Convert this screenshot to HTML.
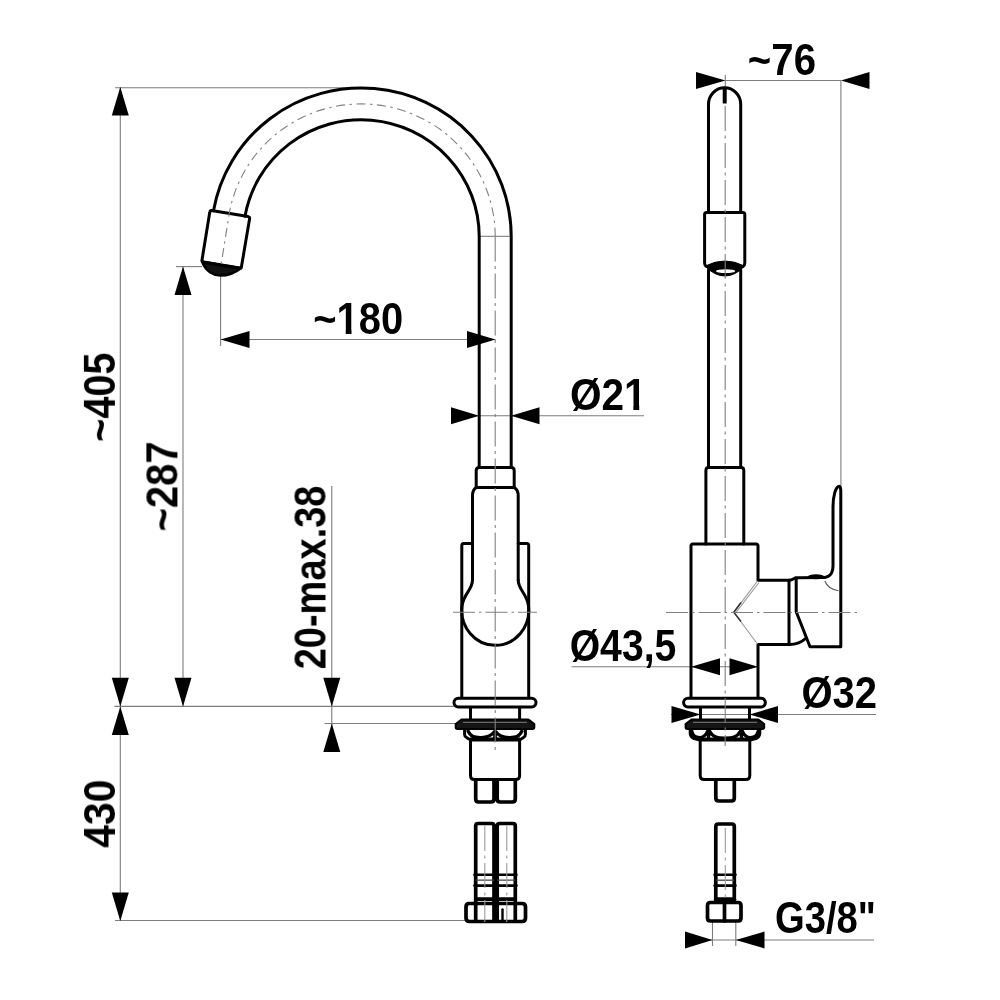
<!DOCTYPE html>
<html><head><meta charset="utf-8">
<style>
html,body{margin:0;padding:0;background:#fff;}
body{width:1000px;height:1000px;overflow:hidden;}
svg{display:block;}
text{font-family:"Liberation Sans",sans-serif;font-weight:bold;font-size:43.5px;fill:#000;}
.k{fill:none;stroke:#000;stroke-width:3;stroke-linejoin:round;stroke-linecap:round;}
.kf{fill:#fff;stroke:#000;stroke-width:3;stroke-linejoin:round;stroke-linecap:round;}
.h{stroke-width:3.7 !important;}
.m{fill:none;stroke:#000;stroke-width:2;stroke-linejoin:round;stroke-linecap:round;}
.t{fill:none;stroke:#7d7d7d;stroke-width:1.1;}
.c{fill:none;stroke:#808080;stroke-width:1.1;stroke-dasharray:25 4.5 3 4.5;}
.c2{stroke-dasharray:9 4.5 2.500 4.5;}
.a{fill:#000;stroke:none;}
</style></head>
<body>
<svg width="1000" height="1000" viewBox="0 0 1000 1000">
<rect width="1000" height="1000" fill="#fff"/>

<!-- ================= DIMENSION / THIN LINES ================= -->
<g class="t">
  <!-- top ext line -->
  <path d="M115 87.7H362"/>
  <!-- 405/430 vertical -->
  <path d="M120.3 87V921"/>
  <!-- 287 -->
  <path d="M176 266.6H202"/>
  <path d="M183 267V706"/>
  <!-- 180 -->
  <path d="M220.6 275V346"/>
  <path d="M220.6 339.5H495.5"/>
  <!-- base lines -->
  <path d="M114.5 706.4H456"/>
  <path d="M324.5 723.5H458"/>
  <path d="M331.8 486V752"/>
  <path d="M115 920.5H467"/>
  <!-- Ø21 -->
  <path d="M451 415.7H644"/>
  <!-- tangent -->
  <path d="M479 236.3H511"/>
  <!-- ~76 -->
  <path d="M725.5 80.5H841"/>
  <path d="M840.9 80V487"/>
  <path d="M725.3 75V88"/>
  <!-- Ø43,5 -->
  <path d="M571.5 666.7H757"/>
  <!-- Ø32 -->
  <path d="M671 714.5H876"/>
  <!-- G3/8 -->
  <path d="M685 940H874"/>
  <path d="M712.5 921V946M735.8 921V946"/>
</g>

<!-- ================= FRONT VIEW ================= -->
<g id="front">
  <!-- spout arcs -->
  <path class="k" d="M511.2 467.5V236.5A150 148.5 0 0 0 213.48 210.71"/>
  <path class="k" d="M479.2 467.5V236.5A118 116.7 0 0 0 244.99 216.24"/>
  <!-- aerator -->
  <path d="M202 261.6C206 272 214 275.5 220.4 275.6C228 275.6 235 273 241.2 268Z" fill="#111" stroke="#000" stroke-width="2.5" stroke-linejoin="round"/>
  <path class="k" d="M211.5 210.6L248.2 216.6Q250 217 249.6 218.8L241.4 267Q241 268.4 239.6 268.2L203.6 262.2Q201.7 261.8 202 260L209.8 212Q210 210.4 211.5 210.6Z"/>
  <!-- collar -->
  <path class="k" d="M476.2 487.4V470.500Q476.2 467.5 479.2 467.5H511.2Q514.2 467.5 514.2 470.500V487.4"/>
  <path class="k" d="M476.2 487.4H514.2"/>
  <!-- body upper -->
  <path class="k" d="M472.5 580V496Q472.5 489.500 476.2 487.6M518.2 580V496Q518.2 489.500 514.2 487.6"/>
  <!-- keyhole circle -->
  <path class="k" d="M472.5 580C472.5 590 463.800 593 462 606A33.5 35 0 1 0 528.5 606C526.8 593 518.2 590 518.2 580"/>
  <!-- handle outer -->
  <path class="k" d="M472.5 543.5H463.800Q461.8 543.5 461.8 545.5V698M518.2 543.5H526.7Q528.7 543.5 528.7 545.5V698"/>
  <!-- flange -->
  <rect class="kf" x="454" y="698.300" width="82" height="8.6" rx="4.3"/>
  <!-- neck -->
  <path class="k" d="M470.5 707.5V720M519.6 707.5V720"/>
  <!-- nut -->
  <path class="k" d="M464.6 729V734.500Q464.6 736.5 466.5 737.5L470.5 740H519.6L523.5 737.5Q525.4 736.5 525.4 734.500V729"/>
  <path d="M467.5 730C471 737.800 475 737.500 481 737.500C487 737.500 491 736.5 494.6 731.5L495.1 739.5L495.6 731.5C499 736.5 503 737.500 509 737.500C515 737.500 519 737.800 522.5 730" fill="none" stroke="#000" stroke-width="3.2" stroke-linejoin="round"/>
  <path d="M491.5 739.5L495.1 733.500L498.7 739.5Z" fill="#111"/>
  <path d="M470 738.8H520" stroke="#000" stroke-width="2.4" fill="none"/>
  <!-- washer -->
  <path d="M461.5 719.5H528.5L534.3 724V727.300Q534.3 729 532.5 729H457.5Q455.7 729 455.7 727.300V724Z" fill="#151515" stroke="#000" stroke-width="2" stroke-linejoin="round"/>
  <path d="M463 722.3H527" stroke="#7a7a7a" stroke-width="1" fill="none"/>
  <!-- lower body -->
  <path class="k" d="M470.5 740V775.500Q470.5 779.5 474.5 779.5H515.6Q519.6 779.5 519.6 775.500V740"/>
  <!-- stubs -->
  <path class="k h" d="M475.7 780V799Q475.7 802 478.7 802H491Q494 802 494 799V780M497.2 780V799Q497.2 802 500.2 802H512.3Q515.3 802 515.3 799V780"/>
  <!-- hoses -->
  <path class="k h" d="M475.7 902V826Q475.7 823.5 478.1 823.5H491.5Q494 823.5 494 826V902M497.2 902V826Q497.2 823.5 499.6 823.5H512.9Q515.3 823.5 515.3 826V902"/>
  <path class="k" style="stroke-width:2.6" d="M474.4 874.8H494.500M474.4 885.6H494.500M496.7 874.8H516.500M496.7 885.6H516.500"/>
  <path d="M475.7 880.2H494M497.2 880.2H515.3" fill="none" stroke="#444" stroke-width="1.3"/>
  <path class="k h" d="M475.7 899.2H494M497.2 899.2H515.3"/>
  <!-- hose nuts -->
  <path class="kf h" d="M469 903.5H522Q525.5 903.5 525.5 907V918Q525.5 921.5 522 921.5H469.5Q466 921.5 466 918V907Q466 903.5 469 903.5Z"/>
  <path class="k h" d="M475.7 905V920M494 904V921M497.2 904V921M515.3 905V920"/>
  <path class="k" style="stroke-width:2.4" d="M502.5 909.500V920"/>
</g>

<!-- ================= SIDE VIEW ================= -->
<g id="side">
  <!-- spout -->
  <path class="k" d="M708.5 212V104.200A16.1 16.4 0 0 1 740.7 104.200V212"/>
  <path d="M724.7 88V103.5" fill="none" stroke="#000" stroke-width="4"/>
  <path class="k" d="M708.5 270V467.5M740.7 270V467.5"/>
  <!-- aerator -->
  <path class="k" d="M706.5 212.5H742.8Q744.8 212.5 744.8 214.5V263Q744.8 265.5 743 266.5M706.5 212.5Q704.6 212.5 704.6 214.5V263Q704.6 265.5 706.4 266.5"/>
  <path d="M705 266.200Q725 255.800 744.6 266.200Q725 285.800 705 266.200Z" fill="#000" stroke="#000" stroke-width="1" stroke-linejoin="round"/>
  <ellipse cx="725.6" cy="271.2" rx="9.6" ry="1.9" fill="#fff"/>
  <!-- lower tube -->
  <path class="k" d="M705.9 544V470.5Q705.9 467.6 708.8 467.6H740.8Q743.8 467.6 743.8 470.5V544"/>
  <!-- body -->
  <path class="k" d="M691 698V546Q691 544 693 544H756Q758 544 758 546V580.300H789M789 644.6H758V698"/>
  <!-- inner hex -->
  <path d="M757.5 581L733.8 612.3L757.5 644M759 582.500L736 612.3" fill="none" stroke="#999" stroke-width="1.1"/>
  <path d="M741 602.500L733.8 612.3L741 621.5" fill="none" stroke="#333" stroke-width="1.5"/>
  <!-- cartridge -->
  <path class="k" d="M789 580.300V644.6"/>
  <path class="k" d="M789 644.6C796 644.300 801.500 642.500 805.500 638.5"/>
  <!-- lever -->
  <path class="k" d="M789 580.300C793 580 794 578 796.2 577.8C805 577.700 814 577.600 822 577.600C829.500 577.600 833 574 833 565.500V507C833 496 835.500 487.800 838.600 486.400C840.8 486 840.8 489 840.8 493V646.800H810L796.2 611.800V578"/>
  <ellipse cx="816" cy="576.700" rx="8.200" ry="2.500" fill="#000"/>
  <path d="M824.8 581Q828 589 838.5 590.800" fill="none" stroke="#555" stroke-width="1.1"/>
  <!-- flange -->
  <rect class="kf" x="683.6" y="698.300" width="81.8" height="8.6" rx="4.3"/>
  <!-- neck -->
  <path class="k" d="M700.5 707.5V720M749.5 707.5V720"/>
  <!-- nut -->
  <path class="k" d="M690.2 729V733Q690.2 737 694 738.500L700 740H750L756 738.500Q759.8 737 759.8 733V729"/>
  <path d="M691.5 730C693 737 696 737.500 699.5 737.500C703 737.500 705.500 736.5 707.6 731L708.500 737L709.5 731C713 737.500 718 738 725 738C732 738 737 737.500 740.5 731L741.500 737L742.4 731C744.500 736.5 747 737.500 750.5 737.500C754 737.500 757 737 758.500 730" fill="none" stroke="#000" stroke-width="3.2" stroke-linejoin="round"/>
  <path d="M705.800 739.5L708.500 734.500L711.2 739.5ZM738.8 739.5L741.500 734.500L744.2 739.5Z" fill="#111"/>
  <path d="M698 738.8H752" stroke="#000" stroke-width="2.4" fill="none"/>
  <!-- washer -->
  <path d="M691.5 719.5H758.3L764.2 724V727.300Q764.2 729 762.4 729H687.4Q685.6 729 685.6 727.300V724Z" fill="#151515" stroke="#000" stroke-width="2" stroke-linejoin="round"/>
  <path d="M693 722.3H757" stroke="#7a7a7a" stroke-width="1" fill="none"/>
  <!-- lower body -->
  <path class="k" d="M700.2 740V775.500Q700.2 779.5 704.2 779.5H745.8Q749.8 779.5 749.8 775.500V740"/>
  <!-- stub -->
  <path class="k h" d="M715.8 780V798Q715.8 801 718.8 801H731.3Q734.3 801 734.3 798V780"/>
  <!-- hose -->
  <path class="k h" d="M715.8 902V826.500Q715.8 824 718.3 824H731.8Q734.3 824 734.3 826.500V902"/>
  <path class="k" style="stroke-width:2.6" d="M714.6 874.8H735.500M714.6 885.6H735.500"/>
  <path d="M715.8 880.2H734.3" fill="none" stroke="#444" stroke-width="1.3"/>
  <path class="k h" d="M715.8 899.2H734.3"/>
  <path class="kf h" d="M710.500 902.5H738Q741 902.5 741 905.5V918Q741 921 738 921H710.500Q707.5 921 707.5 918V905.5Q707.5 902.5 710.500 902.5Z"/>
  <path class="k h" d="M724.5 903V921"/>
</g>

<!-- centre lines -->
<g class="c">
  <path d="M495.2 236.5V752"/>
  <path class="c2" d="M495.2 236.5A134 132.6 0 0 0 229.24 213.47L221.2 264"/>
  <path style="stroke-dasharray:22 4 2.5 4" d="M453 612.3H537"/>
  <path d="M725.2 106V746"/>
  <path style="stroke-dasharray:22 4 2.5 4" d="M666 612.5H860"/>
  <path style="stroke:#9a9a9a" d="M484.8 826V922M506.8 826V922"/>
  <path style="stroke:#9a9a9a" d="M725.3 828V900"/>
</g>

<!-- ================= ARROWS ================= -->
<g class="a">
  <!-- vertical 405 -->
  <path d="M120.3 87L111.8 115.5H128.8Z"/>
  <path d="M120.3 706.4L111.8 677.8H128.8Z"/>
  <path d="M120.3 706.4L111.8 735H128.8Z"/>
  <path d="M120.3 921L111.800 892.5H128.8Z"/>
  <!-- 287 -->
  <path d="M183 266.6L174.500 295H191.5Z"/>
  <path d="M183 706.4L174.500 677.8H191.5Z"/>
  <!-- 20-max38 -->
  <path d="M331.8 706.4L323.3 677.8H340.3Z"/>
  <path d="M331.8 723.5L323.3 752H340.3Z"/>
  <!-- 180 -->
  <path d="M220.6 339.5L249.5 331V348Z"/>
  <path d="M495.5 339.5L467 331V348Z"/>
  <!-- Ø21 -->
  <path d="M479.2 415.7L451 407.2V424.2Z"/>
  <path d="M511 415.7L539.5 407.2V424.2Z"/>
  <!-- ~76 -->
  <path d="M725.5 80.5L696 72V89Z"/>
  <path d="M841 80.5L869.5 72V89Z"/>
  <!-- Ø43,5 -->
  <path d="M691 666.7L720 658.2V675.2Z"/>
  <path d="M758 666.7L729.500 658.2V675.2Z"/>
  <!-- Ø32 -->
  <path d="M700.5 714.5L671.500 706V723Z"/>
  <path d="M749.5 714.5L778 706V723Z"/>
  <!-- G3/8 -->
  <path d="M712.5 940L685 931.5V948.5Z"/>
  <path d="M735.8 940L764.5 931.5V948.5Z"/>
</g>

<!-- ================= TEXT ================= -->
<g id="labels" style="opacity:0.999">
<!--TEXTBEGIN-->
<text transform="translate(781.90 75.10) scale(0.9235 1.0000)" text-anchor="middle">~76</text>
<text transform="translate(358.20 333.80) scale(0.9176 1.0000)" text-anchor="middle">~180</text>
<text transform="translate(608.25 409.80) scale(0.9328 1.0000)" text-anchor="middle">Ø21</text>
<text transform="translate(623.00 660.60) scale(0.9006 1.0000)" text-anchor="middle">Ø43,5</text>
<text transform="translate(839.30 708.30) scale(0.9209 1.0000)" text-anchor="middle">Ø32</text>
<text transform="translate(825.40 933.00) scale(0.8784 1.0000)" text-anchor="middle">G3/8&quot;</text>
<text transform="translate(114.90 397.17) rotate(-90) scale(0.9112 1.0000)" text-anchor="middle">~405</text>
<text transform="translate(177.40 486.40) rotate(-90) scale(0.9179 1.0000)" text-anchor="middle">~287</text>
<text transform="translate(325.50 577.50) rotate(-90) scale(0.8733 1.0000)" text-anchor="middle">20-max.38</text>
<text transform="translate(115.00 813.75) rotate(-90) scale(0.9407 1.0000)" text-anchor="middle">430</text>
<path fill="#fff" d="M337.51 328.83H345.72V335.00H337.51ZM351.50 328.83H359.20V335.00H351.50Z"/>
<path fill="#fff" d="M625.00 404.83H633.35V411.00H625.00ZM639.22 404.83H647.05V411.00H639.22Z"/>
<!--TEXTEND-->
</g>
</svg>
</body></html>
